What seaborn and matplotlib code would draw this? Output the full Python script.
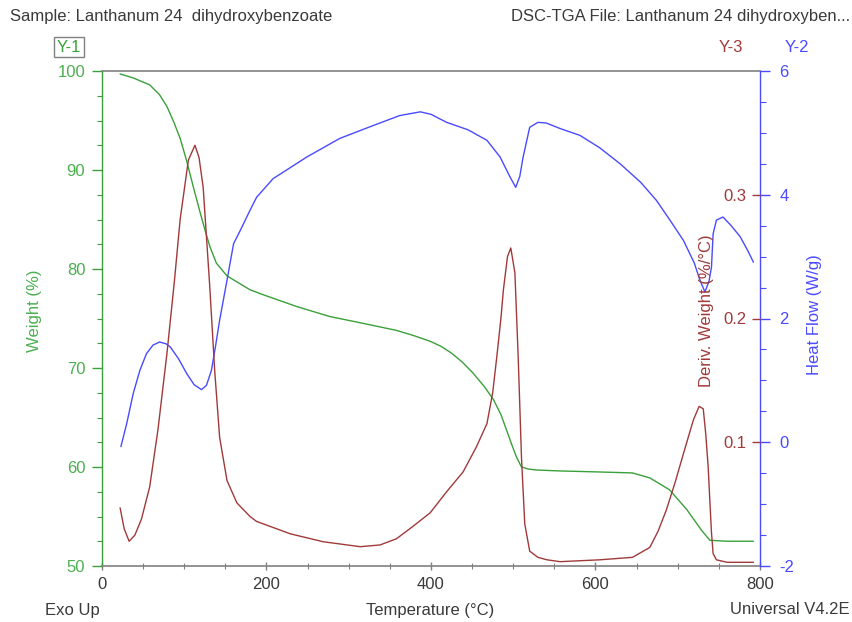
import matplotlib
matplotlib.use('Agg')
import matplotlib.pyplot as plt
from matplotlib.ticker import MultipleLocator, FixedLocator
import seaborn as sns

sns.set_theme(style='white')
plt.rcParams['font.family'] = ['Liberation Sans', 'DejaVu Sans']

# ---------------- data ----------------
weight_temp = [22, 38, 58, 70, 79, 87, 95, 103, 111, 119, 125, 131, 139, 152, 168, 180,
               196, 237, 277, 318, 358, 378, 399, 412, 425, 438, 451, 465, 476, 485, 492,
               498, 504, 510, 518, 528, 557, 604, 645, 666, 690, 711, 729, 739, 760, 792]
weight_pct = [99.7, 99.3, 98.6, 97.6, 96.4, 94.9, 93.2, 90.9, 88.3, 85.8, 84.0, 82.3,
              80.6, 79.3, 78.5, 77.9, 77.4, 76.2, 75.2, 74.5, 73.8, 73.3, 72.7, 72.2,
              71.5, 70.6, 69.5, 68.1, 66.8, 65.3, 63.7, 62.3, 61.0, 60.0, 59.8, 59.7,
              59.6, 59.5, 59.4, 58.9, 57.7, 55.7, 53.6, 52.6, 52.5, 52.5]

hf_temp = [23, 30, 38, 46, 54, 62, 70, 78, 83, 93, 103, 112, 121, 127, 133, 138, 143,
           152, 160, 168, 180, 188, 208, 249, 289, 330, 362, 387, 400, 419, 445, 468,
           484, 496, 503, 508, 512, 520, 530, 540, 557, 581, 605, 630, 655, 674, 690,
           707, 720, 727, 733, 738, 741, 743, 747, 755, 765, 776, 785, 792]
hf_wg = [-0.07, 0.30, 0.79, 1.16, 1.43, 1.57, 1.62, 1.59, 1.54, 1.35, 1.11, 0.93, 0.85,
         0.92, 1.16, 1.55, 1.97, 2.62, 3.21, 3.42, 3.75, 3.96, 4.26, 4.61, 4.91, 5.12,
         5.28, 5.34, 5.30, 5.17, 5.05, 4.88, 4.61, 4.29, 4.12, 4.30, 4.61, 5.09, 5.17,
         5.16, 5.07, 4.96, 4.76, 4.50, 4.20, 3.91, 3.60, 3.26, 2.90, 2.62, 2.43, 2.60,
         2.83, 3.37, 3.59, 3.64, 3.50, 3.32, 3.10, 2.91]

deriv_temp = [22, 27, 33, 40, 48, 58, 68, 79, 88, 95, 105, 113, 118, 123, 131, 137, 143,
              152, 164, 180, 188, 229, 269, 314, 338, 358, 378, 399, 419, 439, 455, 468,
              475, 480, 485, 488, 493, 497, 502, 506, 510, 514, 520, 530, 541, 557,
              605, 645, 666, 676, 686, 697, 707, 719, 726, 731, 734, 737, 739, 741, 743,
              747, 760, 792]
deriv_val = [0.047, 0.030, 0.020, 0.025, 0.038, 0.064, 0.110, 0.172, 0.230, 0.280, 0.328,
             0.340, 0.330, 0.306, 0.226, 0.158, 0.104, 0.069, 0.051, 0.040, 0.036, 0.026,
             0.0196, 0.0156, 0.017, 0.022, 0.032, 0.043, 0.060, 0.076, 0.096, 0.115,
             0.140, 0.169, 0.200, 0.223, 0.250, 0.257, 0.237, 0.169, 0.088, 0.034, 0.012,
             0.007, 0.005, 0.0035, 0.005, 0.007, 0.015, 0.028, 0.045, 0.068, 0.091, 0.118,
             0.129, 0.127, 0.107, 0.080, 0.053, 0.027, 0.010, 0.005, 0.003, 0.003]

x_ticks = [0, 200, 400, 600, 800]
weight_ticks = [50, 60, 70, 80, 90, 100]
hf_ticks = [-2, 0, 2, 4, 6]
deriv_ticks = [0.1, 0.2, 0.3]

# ---------------- style ----------------
GREEN = '#3aa03a'
GREEN_TXT = '#4caf50'
BLUE = '#4a4aff'
RED = '#a03a3a'
GRAY = '#808080'
TXT = '#3a3a3a'
FS = 12

W, H = 853, 622
fig = plt.figure(figsize=(W / 100, H / 100), dpi=100)
fig.patch.set_facecolor('white')
ax = fig.add_axes([102 / W, 1 - 566 / H, 658 / W, 495 / H])
ax2 = ax.twinx()
ax3 = ax.twinx()

sns.lineplot(x=weight_temp, y=weight_pct, ax=ax, color=GREEN, lw=1.0)
sns.lineplot(x=hf_temp, y=hf_wg, ax=ax2, color=BLUE, lw=1.0)
sns.lineplot(x=deriv_temp, y=deriv_val, ax=ax3, color=RED, lw=1.0)

ax.set_xlim(0, 800)
ax.set_ylim(50, 100)
ax2.set_ylim(-2, 6)
ax3.set_ylim(0, 0.4)
for a in (ax, ax2, ax3):
    a.set_xlabel('')
    a.set_ylabel('')

# main axes (weight, temperature)
ax.set_xticks(x_ticks)
ax.set_xticklabels([str(v) for v in x_ticks])
ax.xaxis.set_minor_locator(MultipleLocator(50))
ax.set_yticks(weight_ticks)
ax.set_yticklabels([str(v) for v in weight_ticks])
ax.yaxis.set_minor_locator(MultipleLocator(2.5))
ax.tick_params(axis='x', which='major', direction='inout', length=6, width=1,
               color=GRAY, labelcolor=TXT, labelsize=FS, pad=5, bottom=True)
ax.tick_params(axis='x', which='minor', direction='inout', length=4, width=0.8,
               color=GRAY, bottom=True)
ax.tick_params(axis='y', which='major', direction='out', length=7, width=1,
               color=GREEN, labelcolor=GREEN_TXT, labelsize=FS, pad=5, left=True)
ax.tick_params(axis='y', which='minor', direction='out', length=3.5, width=0.8,
               color=GREEN, left=True)
for s in ('top', 'bottom'):
    ax.spines[s].set_color(GRAY)
    ax.spines[s].set_linewidth(1.2)
ax.spines['left'].set_color(GREEN)
ax.spines['left'].set_linewidth(1.0)
ax.spines['right'].set_visible(False)

# heat flow axis
ax2.set_yticks(hf_ticks)
ax2.set_yticklabels([str(v) for v in hf_ticks])
ax2.yaxis.set_minor_locator(MultipleLocator(0.5))
ax2.tick_params(axis='y', which='major', direction='out', length=7, width=1,
                color=BLUE, labelcolor=BLUE, labelsize=FS, pad=7, right=True)
ax2.tick_params(axis='y', which='minor', direction='out', length=4, width=0.8,
                color=BLUE, right=True)
for s in ('top', 'bottom', 'left'):
    ax2.spines[s].set_visible(False)
ax2.spines['right'].set_color(BLUE)
ax2.spines['right'].set_linewidth(1.0)

# derivative axis: ticks/labels on the inside of the right edge
ax3.spines['left'].set_position(('axes', 1.0))
ax3.yaxis.set_ticks_position('left')
ax3.yaxis.set_label_position('left')
for s in ('top', 'bottom', 'left', 'right'):
    ax3.spines[s].set_visible(False)
ax3.yaxis.set_major_locator(FixedLocator(deriv_ticks))
ax3.set_yticklabels([f'{v:.1f}' for v in deriv_ticks])
ax3.tick_params(axis='y', which='major', direction='out', length=6, width=1,
                color=RED, labelcolor=RED, labelsize=FS, pad=4, left=True, right=False)

# axis titles
fig.text(35 / W, 1 - 311 / H, 'Weight (%)', color=GREEN_TXT, fontsize=FS,
         rotation=90, ha='center', va='center')
fig.text(815 / W, 1 - 315 / H, 'Heat Flow (W/g)', color=BLUE, fontsize=FS,
         rotation=90, ha='center', va='center')
fig.text(706 / W, 1 - 311 / H, 'Deriv. Weight (%/°C)', color=RED, fontsize=FS,
         rotation=90, ha='center', va='center')

# header / footer texts
fig.text(10 / W, 1 - 17 / H, 'Sample: Lanthanum 24  dihydroxybenzoate', color=TXT,
         fontsize=FS, ha='left', va='center')
fig.text(850 / W, 1 - 17 / H, 'DSC-TGA File: Lanthanum 24 dihydroxyben...', color=TXT,
         fontsize=FS, ha='right', va='center')
fig.text(69 / W, 1 - 47 / H, 'Y-1', color=GREEN, fontsize=FS, ha='center', va='center',
         bbox=dict(boxstyle='square,pad=0.15', fc='white', ec=GRAY, lw=1))
fig.text(731 / W, 1 - 47 / H, 'Y-3', color=RED, fontsize=FS, ha='center', va='center')
fig.text(797 / W, 1 - 47 / H, 'Y-2', color=BLUE, fontsize=FS, ha='center', va='center')
fig.text(72 / W, 1 - 610 / H, 'Exo Up', color=TXT, fontsize=FS, ha='center', va='center')
fig.text(430 / W, 1 - 610 / H, 'Temperature (°C)', color=TXT, fontsize=FS,
         ha='center', va='center')
fig.text(850 / W, 1 - 610 / H, 'Universal V4.2E', color=TXT, fontsize=FS,
         ha='right', va='center')

fig.savefig('out.png', dpi=100, facecolor='white')
